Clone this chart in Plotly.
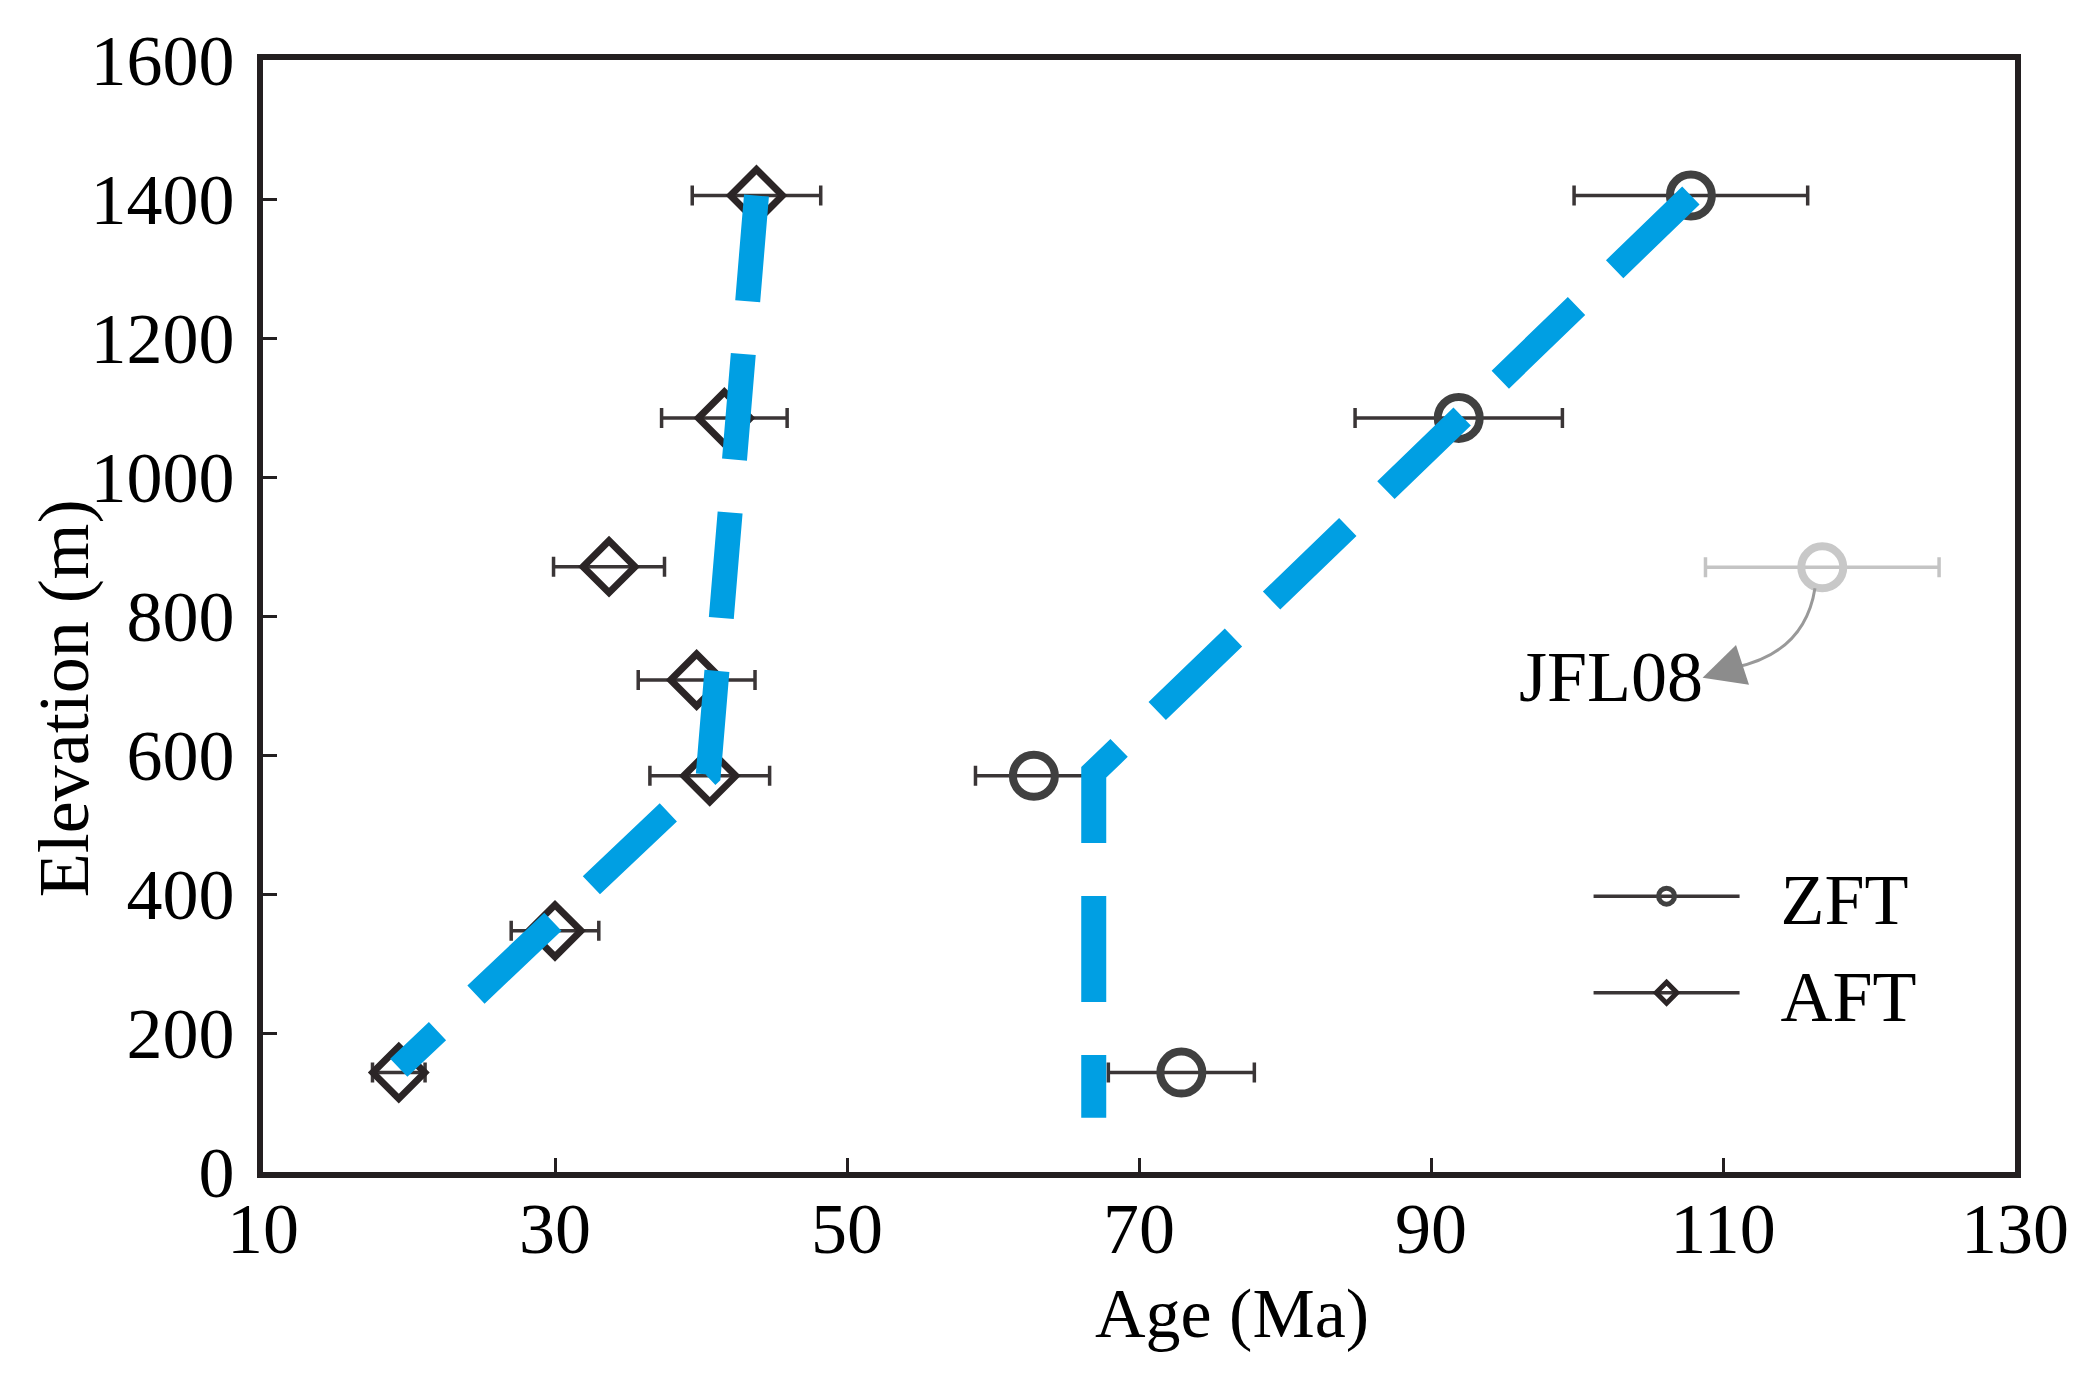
import plotly.graph_objects as go

# AFT (apatite fission track) ages, 1-sigma errors, sample elevations
aft_age = [43.8, 41.6, 33.7, 39.7, 40.6, 30.0, 19.3]
aft_err = [4.4, 4.3, 3.8, 4.0, 4.1, 3.0, 1.8]
aft_elev = [1405, 1085, 871, 708, 570, 347, 143]

# ZFT (zircon fission track); JFL08 is drawn apart, in grey
zft_age = [107.8, 91.9, 62.8, 72.9]
zft_err = [8.0, 7.1, 4.0, 5.0]
zft_elev = [1405, 1085, 570, 143]

jfl08_age = [116.8]
jfl08_err = [8.0]
jfl08_elev = [870]

# trend lines through the age-elevation profiles
aft_fit_age = [43.8, 40.5, 19.3]
aft_fit_elev = [1405, 572, 150]
zft_fit_age = [107.8, 66.9, 66.9]
zft_fit_elev = [1405, 575, 78]

x_ticks = [10, 30, 50, 70, 90, 110, 130]
y_ticks = [0, 200, 400, 600, 800, 1000, 1200, 1400, 1600]

FONT = "Liberation Serif, Times New Roman, serif"
DARK = "#3a3536"
BLUE = "#009FE3"

fig = go.Figure()

err = dict(type="data", thickness=3.5, width=10, color=DARK)

fig.add_trace(go.Scatter(
    x=aft_age, y=aft_elev, mode="markers", showlegend=False,
    error_x=dict(array=aft_err, **err),
    marker=dict(symbol="diamond-open", size=40, color="#2b2526",
                line=dict(width=7, color="#2b2526")),
))
fig.add_trace(go.Scatter(
    x=zft_age, y=zft_elev, mode="markers", showlegend=False,
    error_x=dict(array=zft_err, **err),
    marker=dict(symbol="circle-open", size=42, color="#404040",
                line=dict(width=8, color="#404040")),
))
fig.add_trace(go.Scatter(
    x=jfl08_age, y=jfl08_elev, mode="markers", showlegend=False,
    error_x=dict(array=jfl08_err, type="data", thickness=3.5, width=10, color="#c4c4c4"),
    marker=dict(symbol="circle-open", size=42, color="#c8c8c8",
                line=dict(width=8, color="#c8c8c8")),
))

# dashed fits on top of the points
for xs, ys in [(aft_fit_age, aft_fit_elev), (zft_fit_age, zft_fit_elev)]:
    fig.add_trace(go.Scatter(
        x=xs, y=ys, mode="lines", showlegend=False,
        line=dict(color=BLUE, width=25, dash="106px,53px"),
    ))

# legend keys
fig.add_trace(go.Scatter(
    x=[None], y=[None], mode="lines+markers", name="\u00a0\u00a0ZFT",
    line=dict(color=DARK, width=3.5),
    marker=dict(symbol="circle-open", size=16, color="#404040", line=dict(width=5, color="#404040")),
))
fig.add_trace(go.Scatter(
    x=[None], y=[None], mode="lines+markers", name="\u00a0\u00a0AFT",
    line=dict(color=DARK, width=3.5),
    marker=dict(symbol="diamond-open", size=16, color="#2b2526", line=dict(width=5, color="#2b2526")),
))

# curved pointer from JFL08 label
fig.add_shape(type="path", xref="x", yref="y",
              path="M 116.3,840 Q 115.6,747 110.8,726",
              line=dict(color="#999999", width=3))

fig.add_annotation(x=108.6, y=711, ax=110.8, ay=726, axref="x", ayref="y",
                   text="", showarrow=True, arrowhead=2, arrowsize=2.8,
                   arrowwidth=3, arrowcolor="#8c8c8c")
fig.add_annotation(x=102.3, y=712, text="JFL08", showarrow=False,
                   font=dict(family=FONT, size=72, color="black"))

fig.add_annotation(x=0.553, y=-0.127, xref="paper", yref="paper", text="Age (Ma)",
                   xanchor="center", yanchor="middle",
                   showarrow=False, font=dict(family=FONT, size=70, color="black"))
fig.add_annotation(x=-0.1136, y=0.426, xref="paper", yref="paper", text="Elevation (m)",
                   xanchor="center", yanchor="middle",
                   textangle=-90, showarrow=False, font=dict(family=FONT, size=72, color="black"))

axis_common = dict(
    showgrid=False, zeroline=False, showline=True, mirror=True,
    linecolor="#231f20", linewidth=6, ticks="inside", ticklen=14,
    tickwidth=3, tickcolor="#231f20",
    tickfont=dict(family=FONT, size=72, color="black"),
)

fig.update_xaxes(range=[10, 130], tickvals=x_ticks, ticklabelstandoff=-11, **axis_common)
fig.update_yaxes(range=[0, 1600], tickvals=y_ticks, ticklabelstandoff=8, **axis_common)

fig.update_layout(
    width=2080, height=1382,
    margin=dict(l=255, r=73, t=52, b=218),
    plot_bgcolor="white", paper_bgcolor="white",
    legend=dict(x=0.7566, y=0.296, xanchor="left", yanchor="top",
                bgcolor="rgba(0,0,0,0)", itemwidth=146,
                font=dict(family=FONT, size=72, color="black")),
)

fig.write_html("out.html")
